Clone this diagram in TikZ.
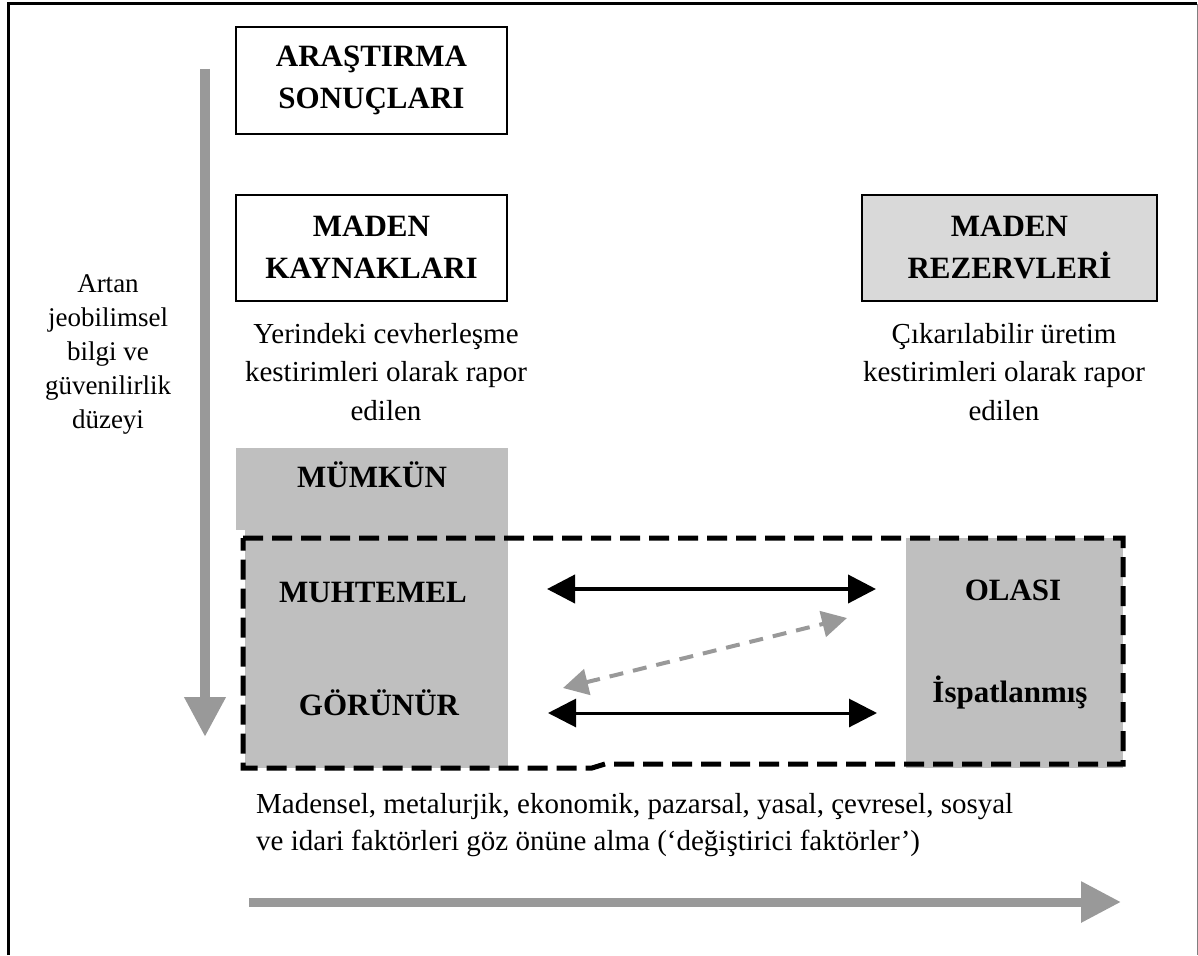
\documentclass[tikz,border=0pt]{standalone}
\usepackage{fontspec}
\setmainfont{Liberation Serif}
\usetikzlibrary{arrows.meta}

\definecolor{blockgray}{gray}{0.75}
\definecolor{boxgray}{gray}{0.85}
\definecolor{arrowgray}{gray}{0.6}

\begin{document}
\begin{tikzpicture}[x=1pt,y=-1pt]

  \tikzstyle{bigbox}=[draw,line width=2pt,minimum width=271pt,minimum height=106pt,inner sep=0pt,align=center,font=\fontsize{31}{42}\selectfont\bfseries]
  \tikzstyle{tag}=[anchor=base,inner sep=0pt,font=\fontsize{31}{42}\selectfont\bfseries]
  \tikzstyle{note}=[anchor=north,inner sep=0pt,align=center,font=\fontsize{29}{38.5}\selectfont]
  \tikzstyle{twoway}=[line width=4pt,{Triangle[length=28pt,width=28pt]}-{Triangle[length=28pt,width=28pt]}]
  \tikzstyle{maybe}=[line width=4pt,arrowgray,dash pattern=on 14pt off 10pt,{Triangle[length=25pt,width=26pt]}-{Triangle[length=25pt,width=26pt]}]
  \tikzstyle{trend}=[line width=10pt,arrowgray,-{Triangle[length=40pt,width=39pt]}]

  \useasboundingbox (0,0) rectangle (1198,955);

  % frame, open at the bottom
  \draw[line width=3pt] (8,955) -- (8,4) -- (1197,4);
  \draw[line width=1pt,gray] (1197,4) -- (1197,955);

  % grey blocks behind the category names
  \fill[blockgray] (236,448) rectangle (508,530);
  \fill[blockgray] (245,530) rectangle (508,768);
  \fill[blockgray] (906,538) rectangle (1123,768);

  \node[bigbox] (arastirma) at (371.5,80.5) {ARAŞTIRMA\\SONUÇLARI};
  \node[bigbox] (kaynak) at (371.5,247.5) {MADEN\\KAYNAKLARI};
  \node[bigbox,fill=boxgray,minimum width=295pt] (rezerv) at (1009.5,247.5) {MADEN\\REZERVLERİ};

  \node[note] (yerinde) at (386,323) {Yerindeki cevherleşme\\kestirimleri olarak rapor\\edilen};
  \node[note] (cikarilabilir) at (1004,323) {Çıkarılabilir üretim\\kestirimleri olarak rapor\\edilen};
  \node[note,font=\fontsize{27}{34}\selectfont] (artan) at (108,274) {Artan\\jeobilimsel\\bilgi ve\\güvenilirlik\\düzeyi};

  \node[tag] (mumkun) at (372,487) {MÜMKÜN};
  \node[tag] (muhtemel) at (373,602) {MUHTEMEL};
  \node[tag] (gorunur) at (379,715) {GÖRÜNÜR};
  \node[tag] (olasi) at (1013,600) {OLASI};
  \node[tag] (ispat) at (1010,702) {İspatlanmış};

  % dashed frame round the convertible categories
  \draw[line width=5pt,dash pattern=on 20pt off 9pt] (243,538) -- (1123,538) -- (1123,764) -- (605,764) -- (592,768) -- (243,768) -- cycle;

  \node[note,anchor=north west,align=left,font=\fontsize{29}{37}\selectfont] (faktor) at (256,793)
    {Madensel, metalurjik, ekonomik, pazarsal, yasal, çevresel, sosyal\\ve idari faktörleri göz önüne alma (‘değiştirici faktörler’)};

  \coordinate (m-l) at (547,589);
  \coordinate (m-r) at (876,589);
  \coordinate (g-l) at (548,713);
  \coordinate (g-r) at (877,713);
  \coordinate (d-l) at (563,688);
  \coordinate (d-r) at (847,618);

  \draw[twoway] (m-l) -- (m-r);
  \draw[twoway,line width=3pt] (g-l) -- (g-r);
  \draw[maybe] (d-l) -- (d-r);

  \coordinate (v-top) at (205,69);
  \coordinate (v-tip) at (205,737);
  \coordinate (h-start) at (249,902);
  \coordinate (h-tip) at (1121,902);

  \draw[trend] (v-top) -- (v-tip);
  \draw[trend,line width=9pt] (h-start) -- (h-tip);

  %\draw[step=50pt,gray,very thin] (0,0) grid (1198,955);

\end{tikzpicture}
\end{document}
